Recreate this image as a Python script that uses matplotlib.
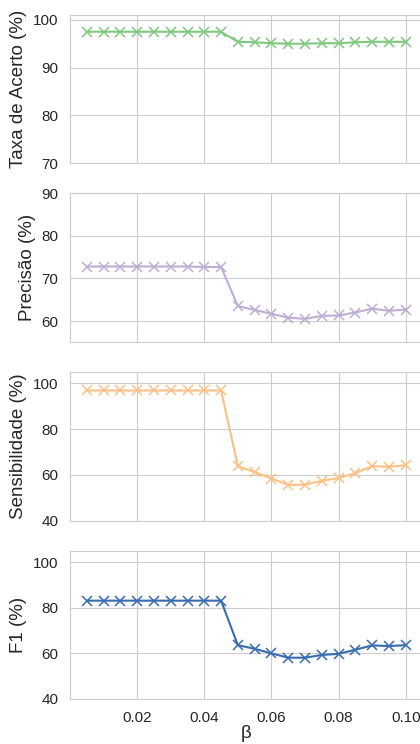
import numpy as np
import seaborn as sns
from matplotlib import pyplot as plt

sns.set_style('whitegrid')
plt.rcParams['font.family'] = ['Liberation Sans', 'DejaVu Sans']

beta = [0.005, 0.010, 0.015, 0.020, 0.025, 0.030, 0.035, 0.040, 0.045, 0.050,
        0.055, 0.060, 0.065, 0.070, 0.075, 0.080, 0.085, 0.090, 0.095, 0.100]
taxa_acerto = [97.5, 97.5, 97.5, 97.5, 97.5, 97.5, 97.5, 97.5, 97.5, 95.4,
               95.3, 95.1, 95.0, 95.0, 95.1, 95.1, 95.3, 95.4, 95.4, 95.4]
precisao = [72.8, 72.8, 72.8, 72.8, 72.8, 72.8, 72.8, 72.7, 72.7, 63.5,
            62.6, 61.7, 60.8, 60.5, 61.2, 61.3, 62.0, 62.9, 62.4, 62.7]
sensibilidade = [96.8, 96.8, 96.8, 96.8, 96.8, 96.8, 96.8, 96.8, 96.8, 63.8,
                 61.2, 58.4, 55.6, 55.7, 57.4, 58.6, 60.7, 63.8, 63.5, 64.2]
f1 = [83.1, 83.1, 83.1, 83.1, 83.1, 83.1, 83.1, 83.1, 83.1, 63.6,
      62.0, 60.0, 58.1, 58.1, 59.3, 59.8, 61.6, 63.5, 63.2, 63.6]

series = [taxa_acerto, precisao, sensibilidade, f1]
ylabels = ['Taxa de Acerto (%)', 'Precisão (%)', 'Sensibilidade (%)', 'F1 (%)']
colors = ['#7fc97f', '#beaed4', '#fdc086', '#386cb0']
ylims = [(70, 101), (55, 90), (40, 105), (40, 105)]
yticks = [[70, 80, 90, 100], [60, 70, 80, 90], [40, 60, 80, 100], [40, 60, 80, 100]]
xticks = [0.02, 0.04, 0.06, 0.08, 0.10]

W, H = 420, 744
fig = plt.figure(figsize=(W / 100, H / 100), dpi=100)
tops = [15, 193.3, 371.7, 550.7]
bottoms = [163.3, 342.3, 520.7, 699]
left, right = 70, 422.5

for i in range(4):
    ax = fig.add_axes([left / W, 1 - bottoms[i] / H, (right - left) / W, (bottoms[i] - tops[i]) / H])
    ax.plot(beta, series[i], color=colors[i], marker='x', markersize=7,
            markeredgewidth=1.1, linewidth=1.5)
    ax.set_xlim(0, 0.105)
    ax.set_ylim(*ylims[i])
    ax.set_yticks(yticks[i])
    ax.set_xticks(xticks)
    ax.set_ylabel(ylabels[i], fontsize=13.5, color='#262626')
    ax.tick_params(labelsize=11, colors='#262626', pad=5)
    for s in ax.spines.values():
        s.set_color('#cccccc')
    if i < 3:
        ax.set_xticklabels([])
    else:
        ax.set_xticklabels(['0.02', '0.04', '0.06', '0.08', '0.10'])
        ax.set_xlabel('β', fontsize=13.5, color='#262626', labelpad=0)

fig.savefig('out.png', dpi=100)
